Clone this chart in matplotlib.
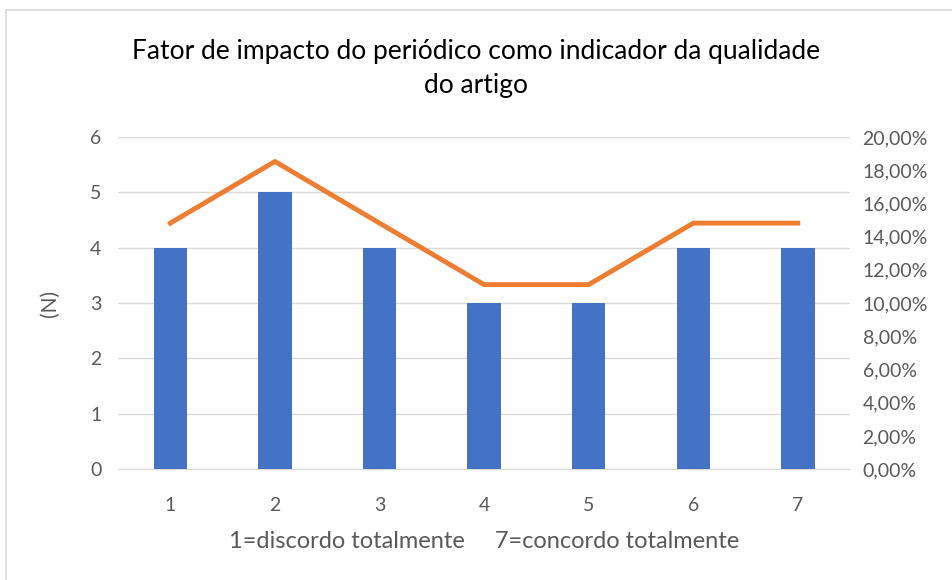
import matplotlib
matplotlib.use('Agg')
import matplotlib.pyplot as plt
from matplotlib.ticker import FuncFormatter
from matplotlib.lines import Line2D

plt.rcParams['font.family'] = ['Lato', 'DejaVu Sans']

categories = ['1', '2', '3', '4', '5', '6', '7']
counts = [4, 5, 4, 3, 3, 4, 4]
percent = [14.81, 18.52, 14.81, 11.11, 11.11, 14.81, 14.81]

BLUE = '#4472c4'
ORANGE = '#ed7d31'
GRID = '#d9d9d9'
TXT = '#595959'

fig = plt.figure(figsize=(9.52, 5.8), dpi=100)
ax = fig.add_axes([0.124, 0.191, 0.769, 0.573])
x = range(len(categories))
ax.bar(x, counts, width=0.32, color=BLUE, zorder=3)
ax.set_ylim(0, 6)
ax.set_xlim(-0.5, len(categories) - 0.5)
ax.set_yticks(range(0, 7))
ax.set_xticks(list(x))
ax.set_xticklabels(categories)
ax.grid(axis='y', color=GRID, linewidth=1, zorder=0)
for s in ['top', 'right', 'left']:
    ax.spines[s].set_visible(False)
ax.spines['bottom'].set_color(GRID)
ax.tick_params(length=0, colors=TXT, labelsize=14, pad=12)
ax.tick_params(axis='x', pad=20)
ax.set_ylabel('(N)', color=TXT, fontsize=15, labelpad=22)
ax.set_xlabel('1=discordo totalmente     7=concordo totalmente', color=TXT, fontsize=17, labelpad=12)

ax2 = ax.twinx()
ax2.plot(list(x), percent, color=ORANGE, linewidth=3.5, zorder=4)
ax2.set_ylim(0, 20)
ax2.set_yticks(range(0, 21, 2))
ax2.yaxis.set_major_formatter(FuncFormatter(lambda v, p: f'{v:.2f}%'.replace('.', ',')))
for s in ['top', 'right', 'left', 'bottom']:
    ax2.spines[s].set_visible(False)
ax2.tick_params(length=0, colors=TXT, labelsize=14, pad=9)

fig.text(0.5, 0.882, 'Fator de impacto do periódico como indicador da qualidade\ndo artigo',
         ha='center', va='center', fontsize=19, color='black', linespacing=1.45)

# outer chart border (left and top)
fig.add_artist(Line2D([0.006, 0.006], [0.0, 0.983], transform=fig.transFigure, color=GRID, linewidth=1.2))
fig.add_artist(Line2D([0.006, 1.0], [0.983, 0.983], transform=fig.transFigure, color=GRID, linewidth=1.2))

fig.savefig('out.png', dpi=100)
